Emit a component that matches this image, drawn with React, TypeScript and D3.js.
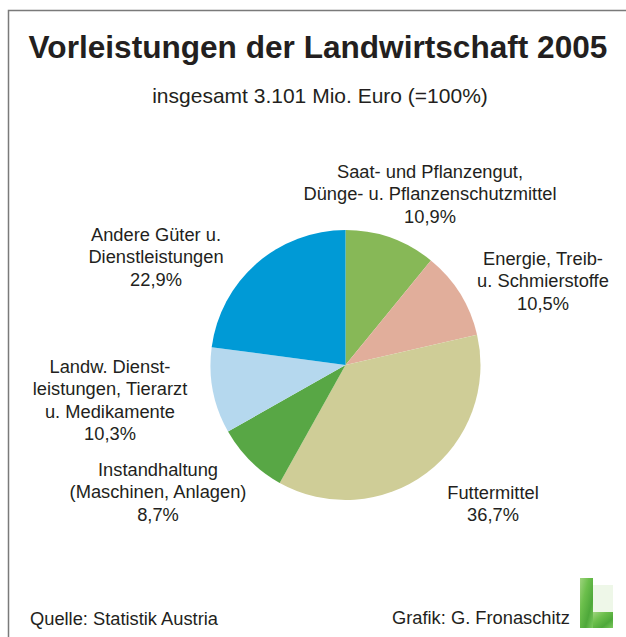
import React from "react";
import * as d3 from "d3";

const categories = [
  "Saat- und Pflanzengut, Dünge- u. Pflanzenschutzmittel",
  "Energie, Treib- u. Schmierstoffe",
  "Futtermittel",
  "Instandhaltung (Maschinen, Anlagen)",
  "Landw. Dienstleistungen, Tierarzt u. Medikamente",
  "Andere Güter u. Dienstleistungen",
];
const values = [10.9, 10.5, 36.7, 8.7, 10.3, 22.9];
const labelLines = [
  ["Saat- und Pflanzengut,", "Dünge- u. Pflanzenschutzmittel"],
  ["Energie, Treib-", "u. Schmierstoffe"],
  ["Futtermittel"],
  ["Instandhaltung", "(Maschinen, Anlagen)"],
  ["Landw. Dienst-", "leistungen, Tierarzt", "u. Medikamente"],
  ["Andere Güter u.", "Dienstleistungen"],
];
const colors = ["#87b857", "#e1ae9b", "#cfcd97", "#58a745", "#b5d8ee", "#009ad6"];
// label anchor layout (center x, first baseline y)
const labelPos = [
  [430, 178],
  [543, 265],
  [493, 499],
  [158, 476],
  [110, 373],
  [156, 241],
];

const title = "Vorleistungen der Landwirtschaft 2005";
const subtitle = "insgesamt 3.101 Mio. Euro (=100%)";
const source = "Quelle: Statistik Austria";
const credit = "Grafik: G. Fronaschitz";

const fmt = (v: number) => v.toFixed(1).replace(".", ",") + "%";

export default function App() {
  const W = 626, H = 637;
  const cx = 345.5, cy = 365, r = 135;
  const pie = d3.pie<number>().sort(null).value((d) => d);
  const arcs = pie(values);
  const arc = d3.arc<d3.PieArcDatum<number>>().innerRadius(0).outerRadius(r);
  const font = "'Liberation Sans', Arial, Helvetica, sans-serif";
  const lh = 22.4;
  return (
    <svg width={W} height={H} style={{ position: "absolute", left: 0, top: 0, background: "#fff" }}>
      <defs>
        <linearGradient id="lg" x1="0" y1="0" x2="1" y2="1">
          <stop offset="0" stopColor="#9fd47e" />
          <stop offset="0.35" stopColor="#6cbf4c" />
          <stop offset="0.7" stopColor="#4ea83a" />
          <stop offset="1" stopColor="#7cc95e" />
        </linearGradient>
      </defs>
      <rect x={0} y={0} width={W} height={H} fill="#fff" />
      <path d={`M8.5,${H} L8.5,10.5 L${W},10.5`} fill="none" stroke="#7a7a7a" strokeWidth={1.5} />
      <text x={318} y={58} textAnchor="middle" fontFamily={font} fontWeight="bold" fontSize={31.6} fill="#231f20">
        {title}
      </text>
      <text x={320} y={103} textAnchor="middle" fontFamily={font} fontSize={21} fill="#231f20">
        {subtitle}
      </text>
      <g transform={`translate(${cx},${cy})`}>
        {arcs.map((a, i) => (
          <path key={categories[i]} d={arc(a) || ""} fill={colors[i]} />
        ))}
      </g>
      {labelLines.map((lines, i) => {
        const [x, y] = labelPos[i];
        const all = [...lines, fmt(values[i])];
        return (
          <text key={i} x={x} y={y} textAnchor="middle" fontFamily={font} fontSize={18.3} fill="#231f20">
            {all.map((t, j) => (
              <tspan key={j} x={x} y={y + j * lh}>
                {t}
              </tspan>
            ))}
          </text>
        );
      })}
      <text x={30} y={625} fontFamily={font} fontSize={18.3} fill="#231f20">
        {source}
      </text>
      <text x={392} y={624} fontFamily={font} fontSize={18.3} fill="#231f20">
        {credit}
      </text>
      <rect x={593} y={585} width={20} height={27} fill="#eef7e8" />
      <rect x={580} y={578} width={13} height={50} fill="url(#lg)" />
      <rect x={593} y={612} width={20} height={16} fill="url(#lg)" />
    </svg>
  );
}
